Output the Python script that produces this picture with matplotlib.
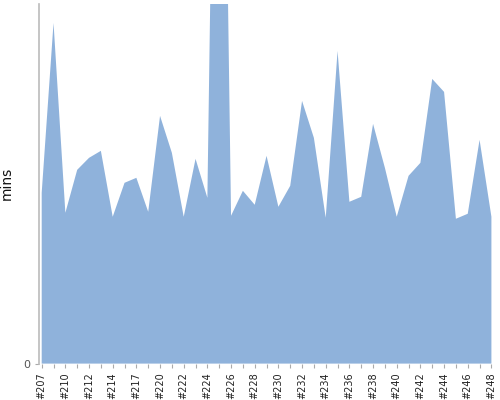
import matplotlib
matplotlib.use("Agg")
import matplotlib.pyplot as plt
import numpy as np

# build numbers (every other one labelled on the axis)
builds = [207, 208, 210, 211, 212, 213, 214, 215, 217, 218,
          220, 221, 222, 223, 224, 225, 226, 227, 228, 229,
          230, 231, 232, 233, 234, 235, 236, 237, 238, 239,
          240, 241, 242, 243, 244, 245, 246, 247, 248]
labels = [f"#{b}" for b in builds]

# build duration in minutes
mins = [17.1, 34.1, 15.1, 19.4, 20.6, 21.3, 14.7, 18.1, 18.6, 15.2,
        24.8, 21.1, 14.7, 20.5, 16.6, 98.5, 14.8, 17.3, 15.9, 20.8,
        15.7, 17.8, 26.3, 22.6, 14.6, 31.3, 16.2, 16.7, 24.0, 19.6,
        14.7, 18.8, 20.1, 28.5, 27.2, 14.5, 15.0, 22.4, 14.7]

y_max = 36.0
fill_color = "#8fb2db"

fig = plt.figure(figsize=(5, 4), dpi=100)
ax = fig.add_axes([0.077, 0.091, 0.907, 0.899])

x = np.arange(len(builds))
ax.fill_between(x, 0, mins, color=fill_color, linewidth=0)

ax.set_xlim(-0.27, len(builds) - 0.95)
ax.set_ylim(0, y_max)

ax.set_xticks(x)
ax.set_xticklabels([lab if i % 2 == 0 else "" for i, lab in enumerate(labels)],
                   rotation=90, fontsize=7, color="#222222")
ax.set_yticks([0])
ax.set_yticklabels(["0"], fontsize=8, color="#555555")
ax.tick_params(axis="x", length=3, width=0.8, color="#aaaaaa", pad=3)
ax.tick_params(axis="y", length=3, width=0.8, color="#aaaaaa", pad=3)

for side in ["top", "right", "bottom"]:
    ax.spines[side].set_visible(False)
ax.spines["left"].set_color("#bbbbbb")
ax.spines["left"].set_linewidth(1.2)

ax.set_ylabel("mins", fontsize=10, color="#111111")
ax.yaxis.set_label_coords(-0.055, 0.5)

fig.savefig("out.png", dpi=100, facecolor="white")
